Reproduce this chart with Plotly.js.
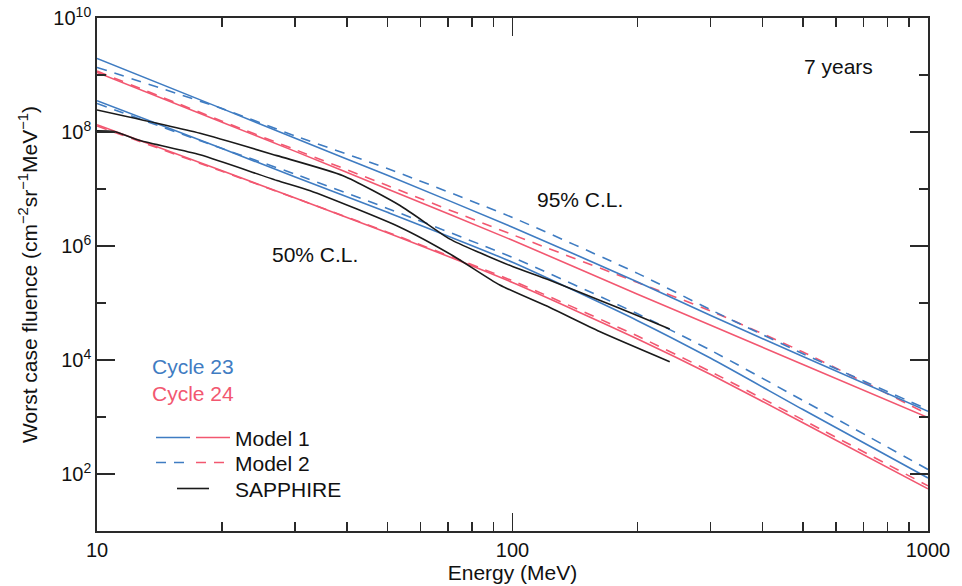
<!DOCTYPE html>
<html>
<head>
<meta charset="utf-8">
<script src="https://cdn.plot.ly/plotly-3.0.1.min.js"></script>
<style>html,body{margin:0;padding:0;background:#fff;}#chart{width:962px;height:586px;}</style>
</head>
<body>
<div id="chart"></div>
<script>
// Energy grid (MeV) for model curves
const energy = [10, 20, 30, 50, 100, 200, 300, 500, 1000];

// 95% C.L. worst case fluence
const c23m1_95 = [1.95e9, 2.57e8, 7.76e7, 1.74e7, 2.14e6, 2.34e5, 6.03e4, 1.15e4, 1.26e3];
const c23m2_95 = [1.36e9, 2.57e8, 8.51e7, 2.29e7, 3.16e6, 3.31e5, 7.59e4, 1.29e4, 1.35e3];
const c24m1_95 = [1.11e9, 1.48e8, 4.57e7, 1.00e7, 1.26e6, 1.43e5, 4.07e4, 8.32e3, 9.80e2];
const c24m2_95 = [1.17e9, 1.55e8, 4.90e7, 1.15e7, 1.58e6, 2.29e5, 7.24e4, 1.38e4, 1.12e3];

// 50% C.L. worst case fluence
const c23m1_50 = [3.54e8, 5.12e7, 1.62e7, 3.89e6, 5.18e5, 4.90e4, 1.07e4, 1.35e3, 85];
const c23m2_50 = [3.16e8, 5.13e7, 1.82e7, 4.57e6, 6.31e5, 6.46e4, 1.48e4, 1.95e3, 120];
const c24m1_50 = [1.34e8, 2.09e7, 6.92e6, 1.71e6, 2.29e5, 2.34e4, 5.56e3, 7.94e2, 55];
const c24m2_50 = [1.28e8, 2.04e7, 6.92e6, 1.75e6, 2.45e5, 2.63e4, 6.24e3, 8.91e2, 62];

// SAPPHIRE
const sapphireE95 = [10, 17.7, 27.1, 39.1, 53.6, 70.7, 83.5, 100, 123, 162, 203, 239];
const sapphire95 = [2.43e8, 9.48e7, 3.85e7, 1.71e7, 5.13e6, 1.32e6, 7.59e5, 4.37e5, 2.51e5, 1.12e5, 5.75e4, 3.5e4];
const sapphireE50 = [10, 11, 12.7, 17.7, 27.1, 32.6, 53.6, 71.9, 93.2, 123, 162, 239];
const sapphire50 = [1.05e8, 1.02e8, 7.08e7, 3.98e7, 1.41e7, 9.33e6, 2.14e6, 6.76e5, 2.07e5, 8.32e4, 3.16e4, 9.33e3];

// Tick labels
const xTickVals = [10, 100, 1000];
const xTickText = ['10', '100', '1000'];
const xMinorVals = [20, 30, 40, 50, 60, 70, 80, 90, 200, 300, 400, 500, 600, 700, 800, 900];
const yTickVals = [1e2, 1e4, 1e6, 1e8, 1e10];
const yTickText = ['10<sup>2</sup>', '10<sup>4</sup>', '10<sup>6</sup>', '10<sup>8</sup>', '10<sup>10</sup>'];
const yMinorVals = [1e1, 1e3, 1e5, 1e7, 1e9];

const BLUE = '#3f7cc2';
const RED = '#f25770';
const BLACK = '#1a1a1a';
const LW = 1.6;
const DASH = '10px,8px';
const FONT = 'Liberation Sans, Arial, Helvetica, sans-serif';
const TXT = 21;

function tr(x, y, color, dash, name) {
  return {x: x, y: y, type: 'scatter', mode: 'lines', name: name,
    line: {color: color, width: LW, dash: dash, shape: 'spline', smoothing: 0.6},
    showlegend: false, hoverinfo: 'skip'};
}

const data = [
  tr(energy, c24m1_50, RED, 'solid', 'C24 M1 50%'),
  tr(energy, c24m2_50, RED, DASH, 'C24 M2 50%'),
  tr(energy, c23m1_50, BLUE, 'solid', 'C23 M1 50%'),
  tr(energy, c23m2_50, BLUE, DASH, 'C23 M2 50%'),
  tr(energy, c24m1_95, RED, 'solid', 'C24 M1 95%'),
  tr(energy, c24m2_95, RED, DASH, 'C24 M2 95%'),
  tr(energy, c23m1_95, BLUE, 'solid', 'C23 M1 95%'),
  tr(energy, c23m2_95, BLUE, DASH, 'C23 M2 95%'),
  tr(sapphireE95, sapphire95, BLACK, 'solid', 'SAPPHIRE 95%'),
  tr(sapphireE50, sapphire50, BLACK, 'solid', 'SAPPHIRE 50%')
];

const AX = '#2a2a2a';
function px2fx(px) { return (px - 97) / 831; }
function py2fy(py) { return (531 - py) / 513; }

function legLine(x0, x1, y, color, dash) {
  return {type: 'line', xref: 'paper', yref: 'paper', x0: px2fx(x0), x1: px2fx(x1), y0: py2fy(y), y1: py2fy(y),
    line: {color: color, width: LW, dash: dash}};
}

const shapes = [
  legLine(156, 190, 437.5, BLUE, 'solid'),
  legLine(196, 230, 437.5, RED, 'solid'),
  legLine(156, 190, 462.5, BLUE, DASH),
  legLine(196, 230, 462.5, RED, DASH),
  legLine(177, 209, 488.5, BLACK, 'solid')
];

function ann(text, px, py, color, anchor) {
  return {text: text, xref: 'paper', yref: 'paper', x: px2fx(px), y: py2fy(py),
    xanchor: anchor || 'center', yanchor: 'middle', showarrow: false,
    font: {family: FONT, size: TXT, color: color || '#111'}};
}

const annotations = [
  ann('7 years', 838, 66),
  ann('95% C.L.', 580, 199),
  ann('50% C.L.', 315, 254),
  ann('Cycle 23', 150, 366, BLUE, 'left'),
  ann('Cycle 24', 150, 393, RED, 'left'),
  ann('Model 1', 233, 438, '#111', 'left'),
  ann('Model 2', 233, 463, '#111', 'left'),
  ann('SAPPHIRE', 233, 489, '#111', 'left')
];

const layout = {
  width: 962, height: 586, autosize: false,
  margin: {l: 97, r: 34, t: 18, b: 55},
  paper_bgcolor: '#fff', plot_bgcolor: '#fff',
  font: {family: FONT, size: 20, color: '#111'},
  showlegend: false,
  xaxis: {
    type: 'log', range: [1, 3],
    tickmode: 'array', tickvals: xTickVals, ticktext: xTickText,
    ticks: 'inside', ticklen: 18, tickwidth: 1.5, tickcolor: AX,
    minor: {tickmode: 'array', tickvals: xMinorVals, ticks: 'inside', ticklen: 9, tickwidth: 1.5, tickcolor: AX, showgrid: false},
    showline: true, linecolor: AX, linewidth: 1.8, mirror: 'ticks',
    showgrid: false, zeroline: false,
    tickfont: {family: FONT, size: 20, color: '#111'},
    title: {text: 'Energy (MeV)', font: {family: FONT, size: 21, color: '#111'}, standoff: 4}
  },
  yaxis: {
    type: 'log', range: [1, 10],
    tickmode: 'array', tickvals: yTickVals, ticktext: yTickText,
    ticks: 'inside', ticklen: 18, tickwidth: 1.5, tickcolor: AX,
    minor: {tickmode: 'array', tickvals: yMinorVals, ticks: 'inside', ticklen: 9, tickwidth: 1.5, tickcolor: AX, showgrid: false},
    showline: true, linecolor: AX, linewidth: 1.8, mirror: 'ticks',
    showgrid: false, zeroline: false,
    tickfont: {family: FONT, size: 20, color: '#111'},
    title: {text: 'Worst case fluence (cm<sup>−2</sup>sr<sup>−1</sup>MeV<sup>−1</sup>)', font: {family: FONT, size: 21, color: '#111'}, standoff: 10}
  },
  shapes: shapes,
  annotations: annotations
};

Plotly.newPlot('chart', data, layout, {staticPlot: true, displayModeBar: false});
</script>
</body>
</html>
